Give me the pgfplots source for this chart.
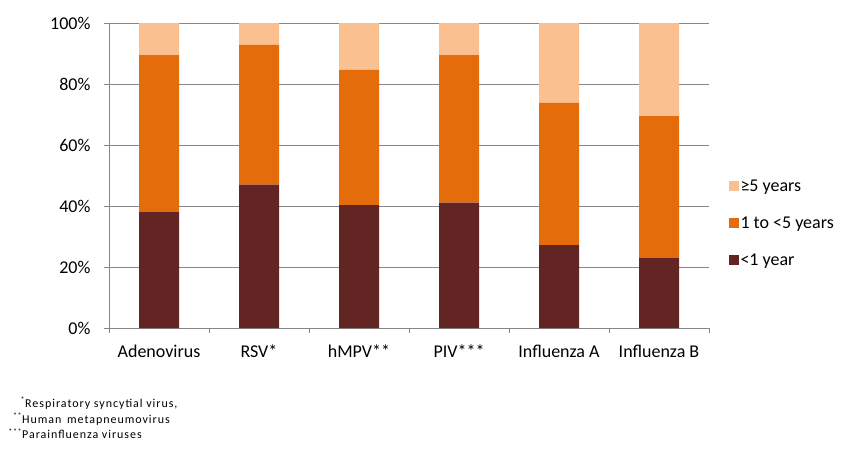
\documentclass[border=0pt]{standalone}
\usepackage{fontspec}
\setmainfont{Carlito}
\usepackage{pgfplots}
\pgfplotsset{compat=1.18}
\definecolor{cDark}{HTML}{632523}
\definecolor{cOrange}{HTML}{E46C0A}
\definecolor{cLight}{HTML}{FAC090}
\definecolor{cGrid}{HTML}{868686}
\newfontfamily\notefont[LetterSpace=8]{Carlito}
\pgfplotsset{sqlegend/.style={legend image code/.code={\fill[##1,draw=none] (0pt,-5pt) rectangle (10pt,5pt);}}}
\begin{document}
\begin{tikzpicture}
\path[use as bounding box] (0,0) rectangle (860pt,451pt);
\begin{axis}[
  at={(109pt,123pt)}, anchor=south west,
  scale only axis, width=600pt, height=305pt,
  ybar stacked, bar width=40pt,
  xmin=-0.5, xmax=5.5, ymin=0, ymax=100,
  xtick={0,...,5},
  xticklabels={Adenovirus,RSV*,hMPV**,PIV***,Influenza A,Influenza B},
  minor xtick={-0.5,0.5,...,5.5},
  major x tick style={draw=none},
  minor x tick style={cGrid},
  minor tick length=5pt,
  ytick={0,20,...,100},
  yticklabels={0\%,20\%,40\%,60\%,80\%,100\%},
  major tick length=5pt,
  tick align=outside,
  y tick style={cGrid},
  ymajorgrids, grid style={cGrid, line width=0.8pt},
  axis x line*=bottom, axis y line*=left,
  axis line style={cGrid, line width=0.8pt},
  tick style={line width=0.8pt},
  ticklabel style={font=\fontsize{18}{21}\selectfont, text=black},
  xticklabel style={anchor=base, yshift=-24pt},
  yticklabel style={xshift=-10pt},
  /pgf/number format/assume math mode=true,
  reverse legend,
  legend style={at={(1.028,0.344)}, anchor=west, draw=none, fill=none,
    font=\fontsize{18}{21}\selectfont, row sep=21pt,
    nodes={inner sep=1.5pt}},
  legend cell align=left,
]
\addplot[fill=cDark, draw=none, sqlegend] coordinates {(0,38.0) (1,47.0) (2,40.3) (3,41.1) (4,27.2) (5,23.1)};
\addplot[fill=cOrange, draw=none, sqlegend] coordinates {(0,51.5) (1,45.8) (2,44.3) (3,48.4) (4,46.6) (5,46.4)};
\addplot[fill=cLight, draw=none, sqlegend] coordinates {(0,10.5) (1,7.2) (2,15.4) (3,10.5) (4,26.2) (5,30.5)};
\legend{<1 year,1 to <5 years,≥5 years}
\end{axis}
\begin{scope}[every node/.style={anchor=base west, inner sep=0pt, font=\notefont\fontsize{12}{14}\selectfont}]
\node at (25pt,{451pt-407pt}) {\llap{\textsuperscript{*}}Respiratory syncytial virus,};
\node at (22pt,{451pt-423pt}) {\llap{\textsuperscript{**}}Human\, metapneumovirus};
\node at (22pt,{451pt-438.5pt}) {\llap{\textsuperscript{***}}Parainfluenza viruses};
\end{scope}
\end{tikzpicture}
\end{document}
